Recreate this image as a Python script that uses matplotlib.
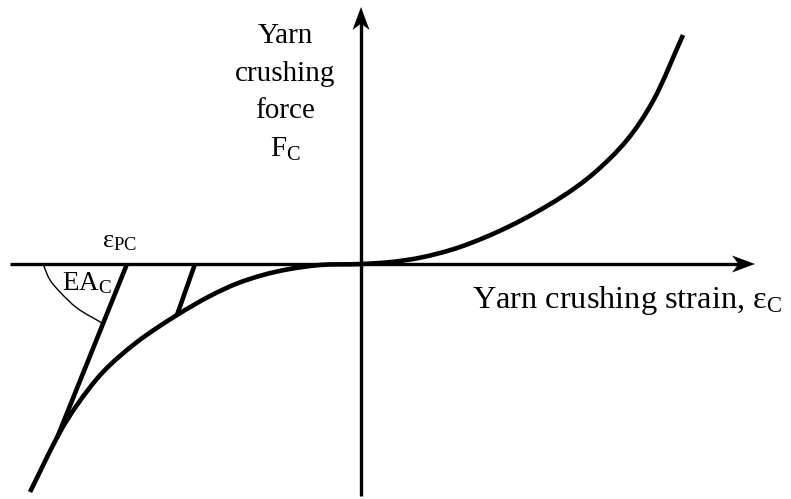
import matplotlib
matplotlib.use("Agg")
import matplotlib.pyplot as plt
import numpy as np
from matplotlib.path import Path
from matplotlib.patches import PathPatch, Polygon

plt.rcParams["font.family"] = ["Liberation Serif", "DejaVu Serif"]
plt.rcParams["mathtext.fontset"] = "custom"
plt.rcParams["mathtext.rm"] = "Liberation Serif"
plt.rcParams["mathtext.it"] = "Liberation Serif:italic"

# Crushing response (normalised strain / force)
strain = [-3.31, -3.01, -2.84, -2.58, -2.24, -1.84, -1.51, -1.24, -0.98,
          -0.74, -0.41, 0.0, 0.3, 0.6, 0.99, 1.49, 1.99, 2.32, 2.66, 2.92, 3.22]
force = [-2.28, -1.68, -1.41, -1.08, -0.78, -0.51, -0.32, -0.195, -0.11,
         -0.055, -0.01, 0.0, 0.02, 0.065, 0.17, 0.38, 0.66, 0.90, 1.24, 1.63, 2.29]

# Unloading lines (start on the strain axis, end on the curve)
unload1_strain = [-2.34, -3.04]
unload1_force = [0.0, -1.74]
unload2_strain = [-1.66, -1.84]
unload2_force = [0.0, -0.51]

# Angle arc marking the unloading stiffness EA_C
arc_strain = [-3.18, -3.11, -3.01, -2.84, -2.59]
arc_force = [0.0, -0.16, -0.28, -0.44, -0.59]

# Axis extents
x_axis = [-3.51, 3.94]
y_axis = [-2.32, 2.57]


def smooth_path(xs, ys, alpha=0.5):
    """Centripetal Catmull-Rom spline through the points, as Bezier segments."""
    pts = np.column_stack([xs, ys]).astype(float)
    ext = np.vstack([2 * pts[0] - pts[1], pts, 2 * pts[-1] - pts[-2]])
    verts = [tuple(pts[0])]
    codes = [Path.MOVETO]
    for i in range(len(pts) - 1):
        p0, p1, p2, p3 = ext[i], ext[i + 1], ext[i + 2], ext[i + 3]
        t0 = 0.0
        t1 = t0 + np.linalg.norm(p1 - p0) ** alpha
        t2 = t1 + np.linalg.norm(p2 - p1) ** alpha
        t3 = t2 + np.linalg.norm(p3 - p2) ** alpha
        m1 = (t2 - t1) * ((p1 - p0) / (t1 - t0) - (p2 - p0) / (t2 - t0)
                          + (p2 - p1) / (t2 - t1))
        m2 = (t2 - t1) * ((p2 - p1) / (t2 - t1) - (p3 - p1) / (t3 - t1)
                          + (p3 - p2) / (t3 - t2))
        c1 = p1 + m1 / 3.0
        c2 = p2 - m2 / 3.0
        verts += [tuple(c1), tuple(c2), tuple(p2)]
        codes += [Path.CURVE4] * 3
    return Path(verts, codes)


fig = plt.figure(figsize=(7.91, 4.99), dpi=100)
ax = fig.add_axes([0, 0, 1, 1])
ax.set_xlim(-3.61, 4.30)
ax.set_ylim(-2.35, 2.64)
ax.axis("off")

axis_lw = 2.4
# axes with concave arrow heads
L, W = 0.23, 0.17
ax.plot([x_axis[0], x_axis[1] - 0.1], [0, 0], color="black", lw=axis_lw,
        solid_capstyle="butt")
ax.add_patch(Polygon([(x_axis[1], 0), (x_axis[1] - L, W / 2),
                      (x_axis[1] - 0.72 * L, 0), (x_axis[1] - L, -W / 2)],
                     closed=True, color="black", lw=0))
ax.plot([0, 0], [y_axis[0], y_axis[1] - 0.1], color="black", lw=axis_lw,
        solid_capstyle="butt")
ax.add_patch(Polygon([(0, y_axis[1]), (W / 2, y_axis[1] - L),
                      (0, y_axis[1] - 0.72 * L), (-W / 2, y_axis[1] - L)],
                     closed=True, color="black", lw=0))

# main curve
ax.add_patch(PathPatch(smooth_path(strain, force), fill=False,
                       edgecolor="black", lw=3.3, capstyle="butt"))
ax.plot(unload1_strain, unload1_force, color="black", lw=3.3,
        solid_capstyle="butt")
ax.plot(unload2_strain, unload2_force, color="black", lw=3.3,
        solid_capstyle="butt")
ax.add_patch(PathPatch(smooth_path(arc_strain, arc_force), fill=False,
                       edgecolor="black", lw=1.0))

# labels
ax.text(-0.76, 1.07, "Yarn\ncrushing\nforce\nF$_\\mathrm{C}$", ha="center",
        va="baseline", fontsize=21, linespacing=1.57, multialignment="center")
ax.text(1.11, -0.44, "Yarn crushing strain, ε$_\\mathrm{C}$", ha="left",
        va="baseline", fontsize=23.3)
ax.text(-2.99, -0.26, "EA$_\\mathrm{C}$", ha="left", va="baseline",
        fontsize=19.5)
ax.text(-2.59, 0.17, "ε$_\\mathrm{PC}$", ha="left", va="baseline",
        fontsize=19)

fig.savefig("out.png", dpi=100)
